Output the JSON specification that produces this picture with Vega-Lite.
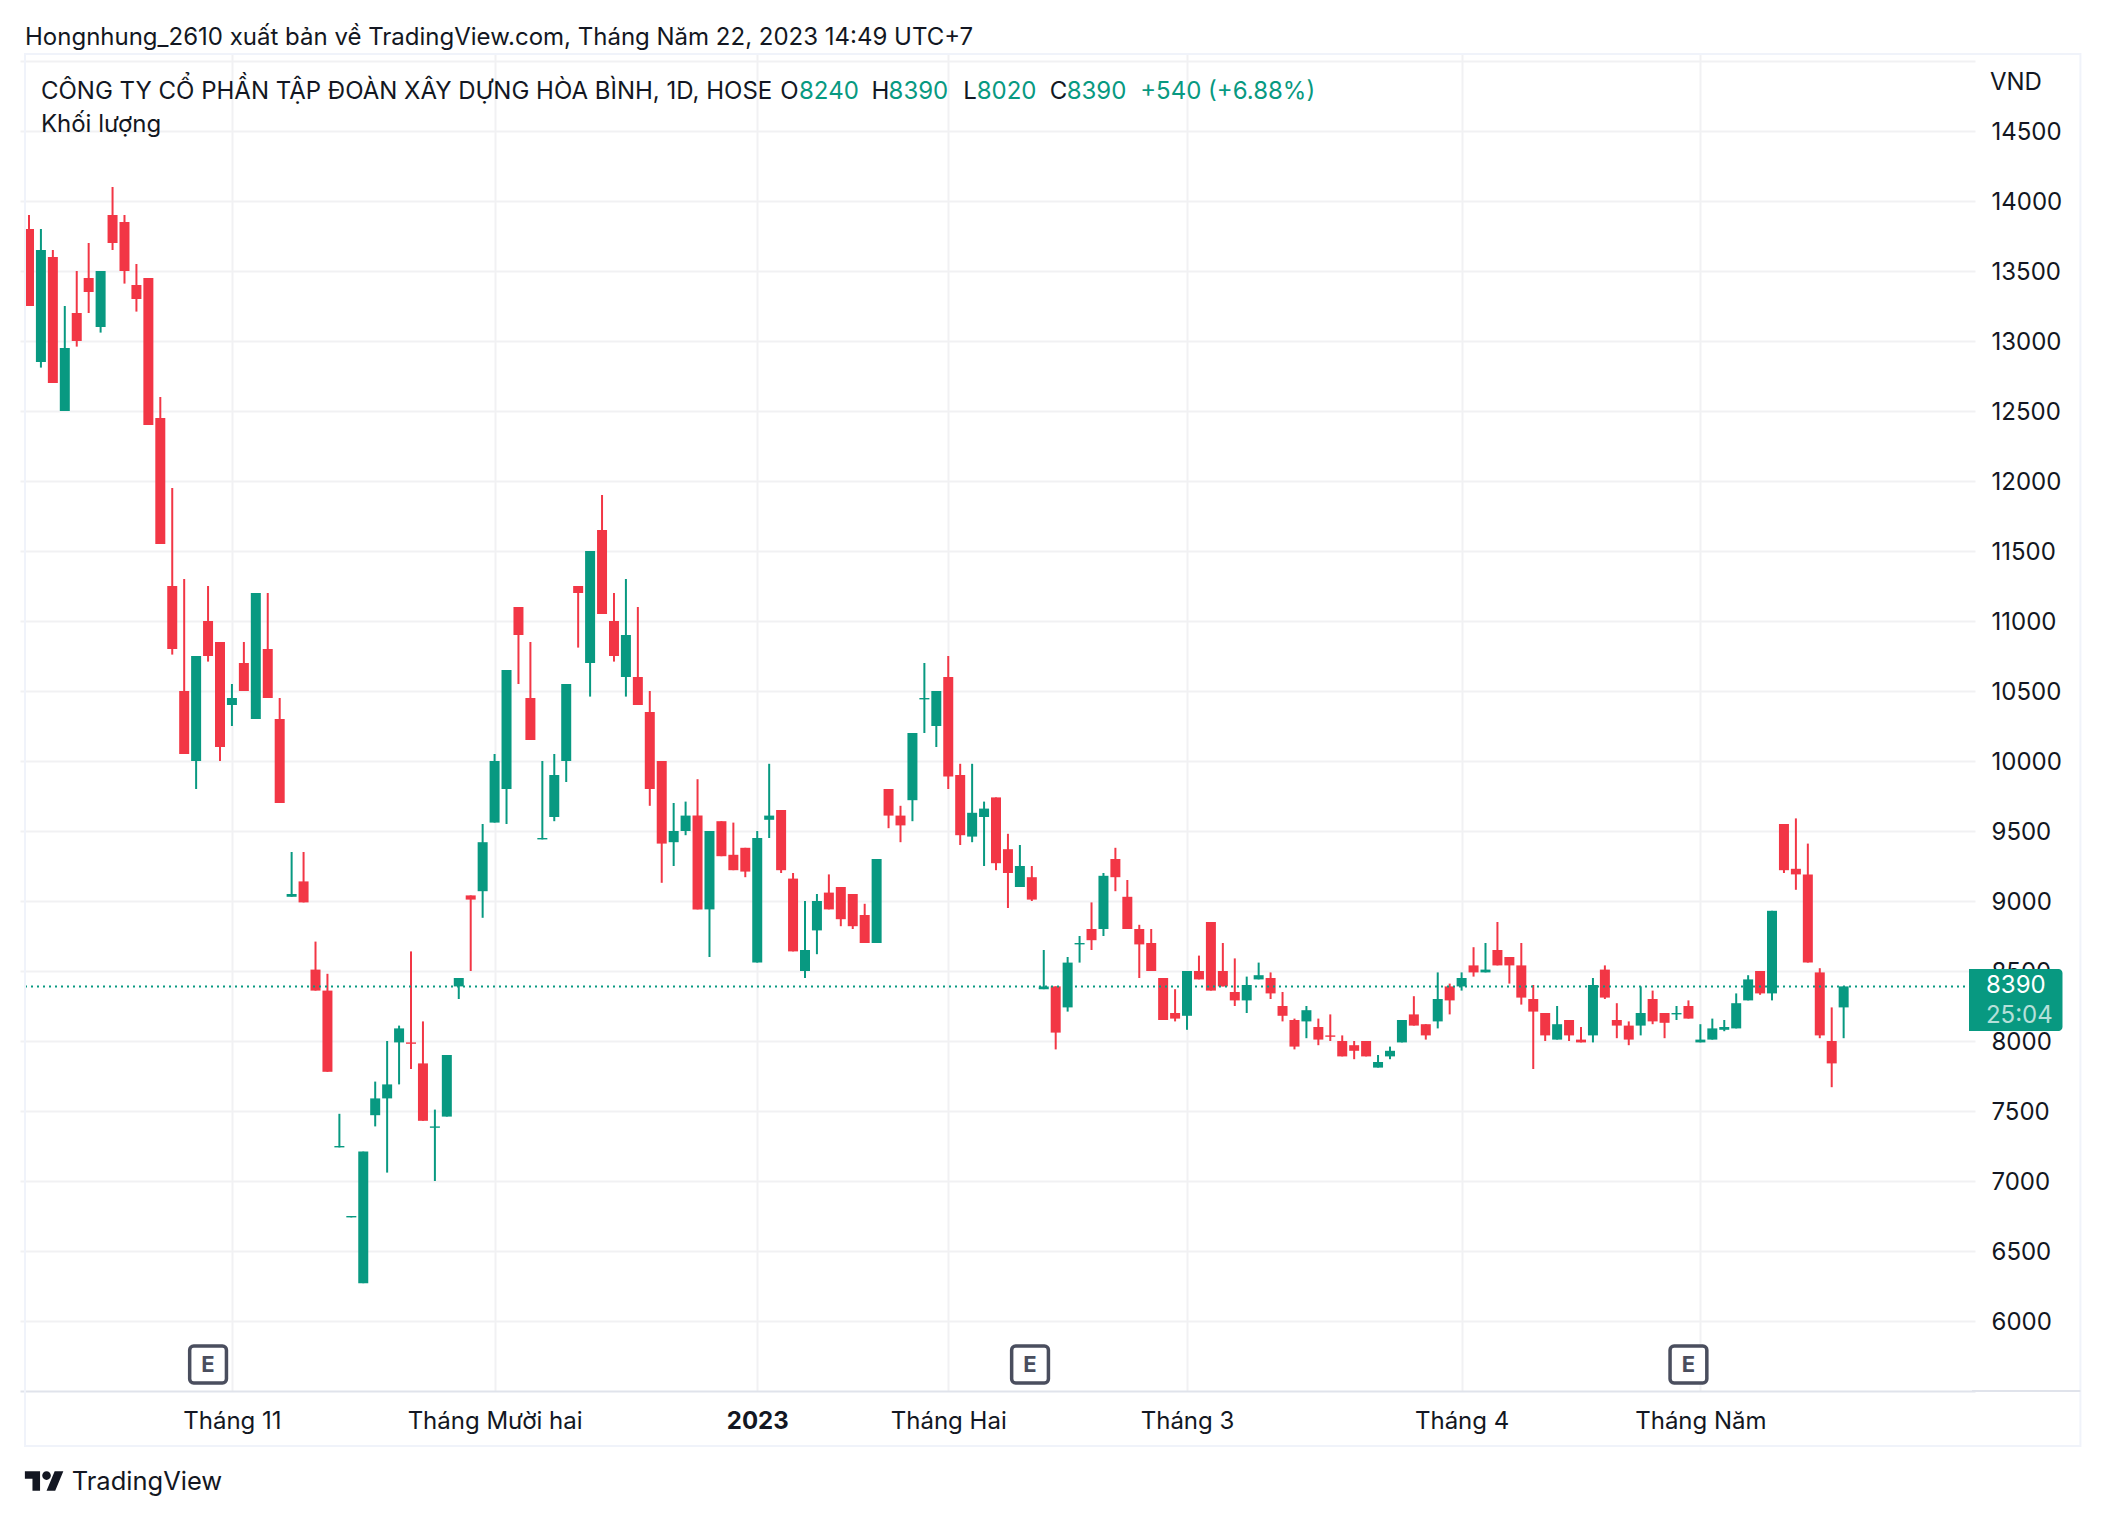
{
  "$schema": "https://vega.github.io/schema/vega-lite/v6.json",
  "width": 1955,
  "height": 1337,
  "autosize": "none",
  "padding": {"left": 20, "top": 54, "right": 131, "bottom": 125},
  "background": "#ffffff",
  "config": {
    "view": {"stroke": null},
    "font": "Inter",
    "text": {"font": "Inter", "fontSize": 24, "align": "left", "baseline": "middle"},
    "axis": {
      "title": null,
      "labelFont": "Inter",
      "labelFontSize": 24,
      "labelColor": "#131722",
      "ticks": false,
      "grid": true,
      "gridColor": "#F1F1F3",
      "gridWidth": 2
    },
    "axisX": {"labelPadding": 18, "domainColor": "#E0E3EB", "domainWidth": 2},
    "axisY": {"labelPadding": 16, "labelOffset": 1, "domain": false}
  },
  "datasets": {
    "candles": [
      {"bar":0,"open":13800,"high":13900,"low":13250,"close":13250},
      {"bar":1,"open":12850,"high":13800,"low":12810,"close":13650},
      {"bar":2,"open":13600,"high":13650,"low":12700,"close":12700},
      {"bar":3,"open":12500,"high":13250,"low":12500,"close":12950},
      {"bar":4,"open":13200,"high":13500,"low":12960,"close":13000},
      {"bar":5,"open":13450,"high":13700,"low":13200,"close":13350},
      {"bar":6,"open":13100,"high":13500,"low":13060,"close":13500},
      {"bar":7,"open":13900,"high":14100,"low":13650,"close":13700},
      {"bar":8,"open":13850,"high":13900,"low":13410,"close":13500},
      {"bar":9,"open":13400,"high":13550,"low":13210,"close":13300},
      {"bar":10,"open":13450,"high":13450,"low":12400,"close":12400},
      {"bar":11,"open":12450,"high":12600,"low":11550,"close":11550},
      {"bar":12,"open":11250,"high":11950,"low":10760,"close":10800},
      {"bar":13,"open":10500,"high":11300,"low":10050,"close":10050},
      {"bar":14,"open":10000,"high":10750,"low":9800,"close":10750},
      {"bar":15,"open":11000,"high":11250,"low":10710,"close":10750},
      {"bar":16,"open":10850,"high":10850,"low":10000,"close":10100},
      {"bar":17,"open":10400,"high":10550,"low":10250,"close":10450},
      {"bar":18,"open":10700,"high":10850,"low":10500,"close":10500},
      {"bar":19,"open":10300,"high":11200,"low":10300,"close":11200},
      {"bar":20,"open":10800,"high":11200,"low":10450,"close":10450},
      {"bar":21,"open":10300,"high":10450,"low":9700,"close":9700},
      {"bar":22,"open":9030,"high":9350,"low":9030,"close":9050},
      {"bar":23,"open":9140,"high":9350,"low":8990,"close":8990},
      {"bar":24,"open":8510,"high":8710,"low":8360,"close":8360},
      {"bar":25,"open":8360,"high":8480,"low":7780,"close":7780},
      {"bar":26,"open":7240,"high":7480,"low":7240,"close":7250},
      {"bar":27,"open":6740,"high":6750,"low":6740,"close":6750},
      {"bar":28,"open":6270,"high":7210,"low":6270,"close":7210},
      {"bar":29,"open":7470,"high":7710,"low":7390,"close":7590},
      {"bar":30,"open":7590,"high":8000,"low":7060,"close":7690},
      {"bar":31,"open":7990,"high":8110,"low":7690,"close":8090},
      {"bar":32,"open":7990,"high":8640,"low":7800,"close":7980},
      {"bar":33,"open":7840,"high":8140,"low":7430,"close":7430},
      {"bar":34,"open":7380,"high":7510,"low":7000,"close":7390},
      {"bar":35,"open":7460,"high":7900,"low":7460,"close":7900},
      {"bar":36,"open":8390,"high":8450,"low":8300,"close":8450},
      {"bar":37,"open":9040,"high":9040,"low":8500,"close":9010},
      {"bar":38,"open":9070,"high":9550,"low":8880,"close":9420},
      {"bar":39,"open":9560,"high":10050,"low":9560,"close":10000},
      {"bar":40,"open":9800,"high":10650,"low":9550,"close":10650},
      {"bar":41,"open":11100,"high":11100,"low":10550,"close":10900},
      {"bar":42,"open":10450,"high":10850,"low":10150,"close":10150},
      {"bar":43,"open":9440,"high":10000,"low":9440,"close":9450},
      {"bar":44,"open":9600,"high":10050,"low":9570,"close":9900},
      {"bar":45,"open":10000,"high":10550,"low":9850,"close":10550},
      {"bar":46,"open":11250,"high":11250,"low":10810,"close":11200},
      {"bar":47,"open":10700,"high":11500,"low":10460,"close":11500},
      {"bar":48,"open":11650,"high":11900,"low":11050,"close":11050},
      {"bar":49,"open":11000,"high":11200,"low":10710,"close":10750},
      {"bar":50,"open":10600,"high":11300,"low":10460,"close":10900},
      {"bar":51,"open":10600,"high":11100,"low":10400,"close":10400},
      {"bar":52,"open":10350,"high":10500,"low":9680,"close":9800},
      {"bar":53,"open":10000,"high":10000,"low":9130,"close":9410},
      {"bar":54,"open":9420,"high":9700,"low":9250,"close":9500},
      {"bar":55,"open":9500,"high":9710,"low":9470,"close":9610},
      {"bar":56,"open":9610,"high":9870,"low":8940,"close":8940},
      {"bar":57,"open":8940,"high":9500,"low":8600,"close":9500},
      {"bar":58,"open":9570,"high":9570,"low":9320,"close":9320},
      {"bar":59,"open":9330,"high":9560,"low":9220,"close":9220},
      {"bar":60,"open":9380,"high":9380,"low":9170,"close":9210},
      {"bar":61,"open":8560,"high":9500,"low":8560,"close":9450},
      {"bar":62,"open":9580,"high":9980,"low":9450,"close":9610},
      {"bar":63,"open":9650,"high":9650,"low":9200,"close":9220},
      {"bar":64,"open":9160,"high":9200,"low":8640,"close":8640},
      {"bar":65,"open":8500,"high":9000,"low":8450,"close":8650},
      {"bar":66,"open":8790,"high":9050,"low":8620,"close":9000},
      {"bar":67,"open":9060,"high":9190,"low":8940,"close":8940},
      {"bar":68,"open":9100,"high":9100,"low":8820,"close":8870},
      {"bar":69,"open":9050,"high":9050,"low":8800,"close":8820},
      {"bar":70,"open":8900,"high":8980,"low":8700,"close":8700},
      {"bar":71,"open":8700,"high":9300,"low":8700,"close":9300},
      {"bar":72,"open":9800,"high":9800,"low":9520,"close":9610},
      {"bar":73,"open":9610,"high":9680,"low":9420,"close":9540},
      {"bar":74,"open":9720,"high":10200,"low":9570,"close":10200},
      {"bar":75,"open":10440,"high":10700,"low":10200,"close":10450},
      {"bar":76,"open":10250,"high":10500,"low":10100,"close":10500},
      {"bar":77,"open":10600,"high":10750,"low":9800,"close":9890},
      {"bar":78,"open":9900,"high":9980,"low":9400,"close":9470},
      {"bar":79,"open":9460,"high":9980,"low":9420,"close":9630},
      {"bar":80,"open":9600,"high":9710,"low":9250,"close":9660},
      {"bar":81,"open":9740,"high":9740,"low":9220,"close":9270},
      {"bar":82,"open":9370,"high":9480,"low":8950,"close":9200},
      {"bar":83,"open":9100,"high":9400,"low":9100,"close":9250},
      {"bar":84,"open":9170,"high":9250,"low":9000,"close":9010},
      {"bar":85,"open":8370,"high":8650,"low":8370,"close":8390},
      {"bar":86,"open":8390,"high":8390,"low":7940,"close":8060},
      {"bar":87,"open":8240,"high":8600,"low":8210,"close":8560},
      {"bar":88,"open":8690,"high":8750,"low":8560,"close":8700},
      {"bar":89,"open":8800,"high":8990,"low":8650,"close":8720},
      {"bar":90,"open":8800,"high":9200,"low":8750,"close":9180},
      {"bar":91,"open":9300,"high":9380,"low":9070,"close":9170},
      {"bar":92,"open":9030,"high":9150,"low":8800,"close":8800},
      {"bar":93,"open":8800,"high":8830,"low":8450,"close":8690},
      {"bar":94,"open":8700,"high":8800,"low":8500,"close":8500},
      {"bar":95,"open":8450,"high":8450,"low":8150,"close":8150},
      {"bar":96,"open":8200,"high":8370,"low":8140,"close":8160},
      {"bar":97,"open":8180,"high":8500,"low":8080,"close":8500},
      {"bar":98,"open":8500,"high":8610,"low":8440,"close":8440},
      {"bar":99,"open":8850,"high":8850,"low":8360,"close":8360},
      {"bar":100,"open":8500,"high":8700,"low":8390,"close":8390},
      {"bar":101,"open":8350,"high":8590,"low":8250,"close":8290},
      {"bar":102,"open":8290,"high":8460,"low":8200,"close":8400},
      {"bar":103,"open":8440,"high":8560,"low":8440,"close":8470},
      {"bar":104,"open":8450,"high":8490,"low":8300,"close":8340},
      {"bar":105,"open":8250,"high":8350,"low":8140,"close":8180},
      {"bar":106,"open":8150,"high":8160,"low":7940,"close":7960},
      {"bar":107,"open":8140,"high":8250,"low":8020,"close":8220},
      {"bar":108,"open":8100,"high":8160,"low":7970,"close":8010},
      {"bar":109,"open":8040,"high":8190,"low":8000,"close":8030},
      {"bar":110,"open":8000,"high":8040,"low":7890,"close":7890},
      {"bar":111,"open":7970,"high":8000,"low":7870,"close":7930},
      {"bar":112,"open":8000,"high":8000,"low":7890,"close":7890},
      {"bar":113,"open":7810,"high":7900,"low":7810,"close":7850},
      {"bar":114,"open":7890,"high":7960,"low":7870,"close":7930},
      {"bar":115,"open":7990,"high":8150,"low":7990,"close":8150},
      {"bar":116,"open":8190,"high":8320,"low":8110,"close":8110},
      {"bar":117,"open":8120,"high":8120,"low":8010,"close":8040},
      {"bar":118,"open":8140,"high":8490,"low":8090,"close":8300},
      {"bar":119,"open":8390,"high":8410,"low":8190,"close":8290},
      {"bar":120,"open":8390,"high":8490,"low":8360,"close":8450},
      {"bar":121,"open":8540,"high":8670,"low":8460,"close":8490},
      {"bar":122,"open":8490,"high":8700,"low":8490,"close":8510},
      {"bar":123,"open":8650,"high":8850,"low":8540,"close":8540},
      {"bar":124,"open":8600,"high":8600,"low":8410,"close":8540},
      {"bar":125,"open":8540,"high":8700,"low":8260,"close":8310},
      {"bar":126,"open":8300,"high":8400,"low":7800,"close":8210},
      {"bar":127,"open":8200,"high":8200,"low":8000,"close":8040},
      {"bar":128,"open":8010,"high":8250,"low":8010,"close":8120},
      {"bar":129,"open":8150,"high":8150,"low":8000,"close":8040},
      {"bar":130,"open":8010,"high":8100,"low":7990,"close":7990},
      {"bar":131,"open":8040,"high":8450,"low":7990,"close":8400},
      {"bar":132,"open":8510,"high":8540,"low":8300,"close":8310},
      {"bar":133,"open":8150,"high":8270,"low":8020,"close":8110},
      {"bar":134,"open":8110,"high":8140,"low":7970,"close":8010},
      {"bar":135,"open":8110,"high":8390,"low":8040,"close":8200},
      {"bar":136,"open":8300,"high":8360,"low":8120,"close":8140},
      {"bar":137,"open":8200,"high":8200,"low":8020,"close":8130},
      {"bar":138,"open":8190,"high":8250,"low":8150,"close":8200},
      {"bar":139,"open":8250,"high":8290,"low":8160,"close":8160},
      {"bar":140,"open":7990,"high":8120,"low":7990,"close":8010},
      {"bar":141,"open":8010,"high":8160,"low":8010,"close":8090},
      {"bar":142,"open":8080,"high":8150,"low":8070,"close":8100},
      {"bar":143,"open":8090,"high":8340,"low":8090,"close":8270},
      {"bar":144,"open":8290,"high":8470,"low":8290,"close":8440},
      {"bar":145,"open":8500,"high":8500,"low":8330,"close":8340},
      {"bar":146,"open":8340,"high":8930,"low":8290,"close":8930},
      {"bar":147,"open":9550,"high":9550,"low":9200,"close":9220},
      {"bar":148,"open":9230,"high":9590,"low":9080,"close":9190},
      {"bar":149,"open":9190,"high":9410,"low":8560,"close":8560},
      {"bar":150,"open":8490,"high":8520,"low":8020,"close":8040},
      {"bar":151,"open":8000,"high":8240,"low":7670,"close":7840},
      {"bar":152,"open":8240,"high":8390,"low":8020,"close":8390}
    ]
  },
  "data": {"name": "candles"},
  "layer": [
    {
      "mark": {"type": "rule", "strokeWidth": 2},
      "encoding": {
        "x": {
          "field": "bar",
          "type": "quantitative",
          "scale": {"domain": [-0.3333, 162.5833], "nice": false, "zero": false},
          "axis": {
            "values": [17, 39, 61, 77, 97, 120, 140],
            "labelExpr": "datum.value == 17 ? 'Tháng 11' : datum.value == 39 ? 'Tháng Mười hai' : datum.value == 61 ? '2023' : datum.value == 77 ? 'Tháng Hai' : datum.value == 97 ? 'Tháng 3' : datum.value == 120 ? 'Tháng 4' : 'Tháng Năm'",
            "labelFontWeight": {"expr": "datum.value == 61 ? 'bold' : 'normal'"}
          }
        },
        "y": {
          "field": "low",
          "type": "quantitative",
          "scale": {"domain": [5500, 15050], "nice": false, "zero": false},
          "axis": {
            "orient": "right",
            "values": [6000, 6500, 7000, 7500, 8000, 8500, 9000, 9500, 10000, 10500, 11000, 11500, 12000, 12500, 13000, 13500, 14000, 14500, 15000],
            "format": "d",
            "labelExpr": "datum.value == 15000 ? '' : datum.label"
          }
        },
        "y2": {"field": "high"},
        "color": {"condition": {"test": "datum.close >= datum.open", "value": "#089981"}, "value": "#F23645"}
      }
    },
    {
      "mark": {"type": "bar", "size": 10},
      "encoding": {
        "x": {"field": "bar", "type": "quantitative"},
        "y": {"field": "open", "type": "quantitative"},
        "y2": {"field": "close"},
        "color": {"condition": {"test": "datum.close >= datum.open", "value": "#089981"}, "value": "#F23645"}
      }
    },
    {
      "data": {"values": [{"from": -0.3333, "to": 162.5, "last": 8390}]},
      "mark": {"type": "rule", "strokeWidth": 2, "strokeDash": [2, 4], "color": "#089981"},
      "encoding": {
        "x": {"field": "from", "type": "quantitative"},
        "x2": {"field": "to"},
        "y": {"field": "last", "type": "quantitative"}
      }
    },
    {
      "data": {"values": [{"x0": -0.3333, "x1": 171.83, "y0": 15050, "y1": 5107}]},
      "mark": {"type": "rect", "fill": null, "stroke": "#F0F3FA", "strokeWidth": 2},
      "encoding": {
        "x": {"field": "x0", "type": "quantitative"},
        "x2": {"field": "x1"},
        "y": {"field": "y0", "type": "quantitative"},
        "y2": {"field": "y1"}
      }
    },
    {
      "data": {"values": [{"from": 162.75, "to": 171.83, "base": 5500}]},
      "mark": {"type": "rule", "strokeWidth": 2, "color": "#E0E3EB"},
      "encoding": {
        "x": {"field": "from", "type": "quantitative"},
        "x2": {"field": "to"},
        "y": {"field": "base", "type": "quantitative"}
      }
    },
    {
      "data": {"values": [{"x0": 162.5, "x1": 170.33, "y0": 8514, "y1": 8071}]},
      "mark": {"type": "rect", "color": "#089981", "cornerRadiusTopRight": 4, "cornerRadiusBottomRight": 4},
      "encoding": {
        "x": {"field": "x0", "type": "quantitative"},
        "x2": {"field": "x1"},
        "y": {"field": "y0", "type": "quantitative"},
        "y2": {"field": "y1"}
      }
    },
    {
      "data": {"values": [{"x0": 13.46, "x1": 16.54, "y0": 5821, "y1": 5557}, {"x0": 82.31, "x1": 85.39, "y0": 5821, "y1": 5557}, {"x0": 137.46, "x1": 140.54, "y0": 5821, "y1": 5557}]},
      "mark": {"type": "rect", "fill": "#ffffff", "stroke": "#4A4E5E", "strokeWidth": 3.5, "cornerRadius": 4},
      "encoding": {
        "x": {"field": "x0", "type": "quantitative"},
        "x2": {"field": "x1"},
        "y": {"field": "y0", "type": "quantitative"},
        "y2": {"field": "y1"}
      }
    },
    {
      "data": {"values": [{"bar": 15, "price": 5686}, {"bar": 83.85, "price": 5686}, {"bar": 139, "price": 5686}]},
      "mark": {"type": "text", "text": "E", "align": "center", "fontWeight": "bold", "fontSize": 22, "color": "#4A4E5E"},
      "encoding": {
        "x": {"field": "bar", "type": "quantitative"},
        "y": {"field": "price", "type": "quantitative"}
      }
    },
    {
      "data": {"values": [
        {"bar": -0.3333, "price": 15165, "label": "Hongnhung_2610 xuất bản về TradingView.com, Tháng Năm 22, 2023 14:49 UTC+7"},
        {"bar": 1, "price": 14780, "label": "CÔNG TY CỔ PHẦN TẬP ĐOÀN XÂY DỰNG HÒA BÌNH, 1D, HOSE"},
        {"bar": 62.92, "price": 14780, "label": "O"},
        {"bar": 70.58, "price": 14780, "label": "H"},
        {"bar": 78.25, "price": 14780, "label": "L"},
        {"bar": 85.5, "price": 14780, "label": "C"},
        {"bar": 1, "price": 14540, "label": "Khối lượng"},
        {"bar": 164.25, "price": 14845, "label": "VND"}
      ]},
      "mark": {"type": "text", "color": "#131722"},
      "encoding": {
        "x": {"field": "bar", "type": "quantitative"},
        "y": {"field": "price", "type": "quantitative"},
        "text": {"field": "label"}
      }
    },
    {
      "data": {"values": [
        {"bar": 64.5, "price": 14780, "label": "8240"},
        {"bar": 72, "price": 14780, "label": "8390"},
        {"bar": 79.38, "price": 14780, "label": "8020"},
        {"bar": 86.92, "price": 14780, "label": "8390"},
        {"bar": 93.08, "price": 14780, "label": "+540 (+6.88%)"}
      ]},
      "mark": {"type": "text", "color": "#089981"},
      "encoding": {
        "x": {"field": "bar", "type": "quantitative"},
        "y": {"field": "price", "type": "quantitative"},
        "text": {"field": "label"}
      }
    },
    {
      "data": {"values": [{"bar": 163.92, "price": 8395, "label": "8390"}]},
      "mark": {"type": "text", "color": "#ffffff"},
      "encoding": {
        "x": {"field": "bar", "type": "quantitative"},
        "y": {"field": "price", "type": "quantitative"},
        "text": {"field": "label"}
      }
    },
    {
      "data": {"values": [{"bar": 163.92, "price": 8180, "label": "25:04"}]},
      "mark": {"type": "text", "color": "#ffffff", "opacity": 0.7},
      "encoding": {
        "x": {"field": "bar", "type": "quantitative"},
        "y": {"field": "price", "type": "quantitative"},
        "text": {"field": "label"}
      }
    },
    {
      "data": {"values": [{"bar": 3.58, "price": 4850, "label": "TradingView"}]},
      "mark": {"type": "text", "color": "#131722", "fontSize": 25.5},
      "encoding": {
        "x": {"field": "bar", "type": "quantitative"},
        "y": {"field": "price", "type": "quantitative"},
        "text": {"field": "label"}
      }
    },
    {
      "data": {"values": [{"bar": 1.29, "price": 4857}]},
      "mark": {
        "type": "point",
        "filled": true,
        "size": 1521,
        "opacity": 1,
        "color": "#131722",
        "shape": "M-0.222,0.5H-0.611V-0.111H-1V-0.5H-0.222ZM0.556,0.5H0.111L0.528,-0.5H0.972ZM0.333,-0.278A0.222,0.222 0 1 1 -0.111,-0.278A0.222,0.222 0 1 1 0.333,-0.278Z"
      },
      "encoding": {
        "x": {"field": "bar", "type": "quantitative"},
        "y": {"field": "price", "type": "quantitative"}
      }
    }
  ]
}
